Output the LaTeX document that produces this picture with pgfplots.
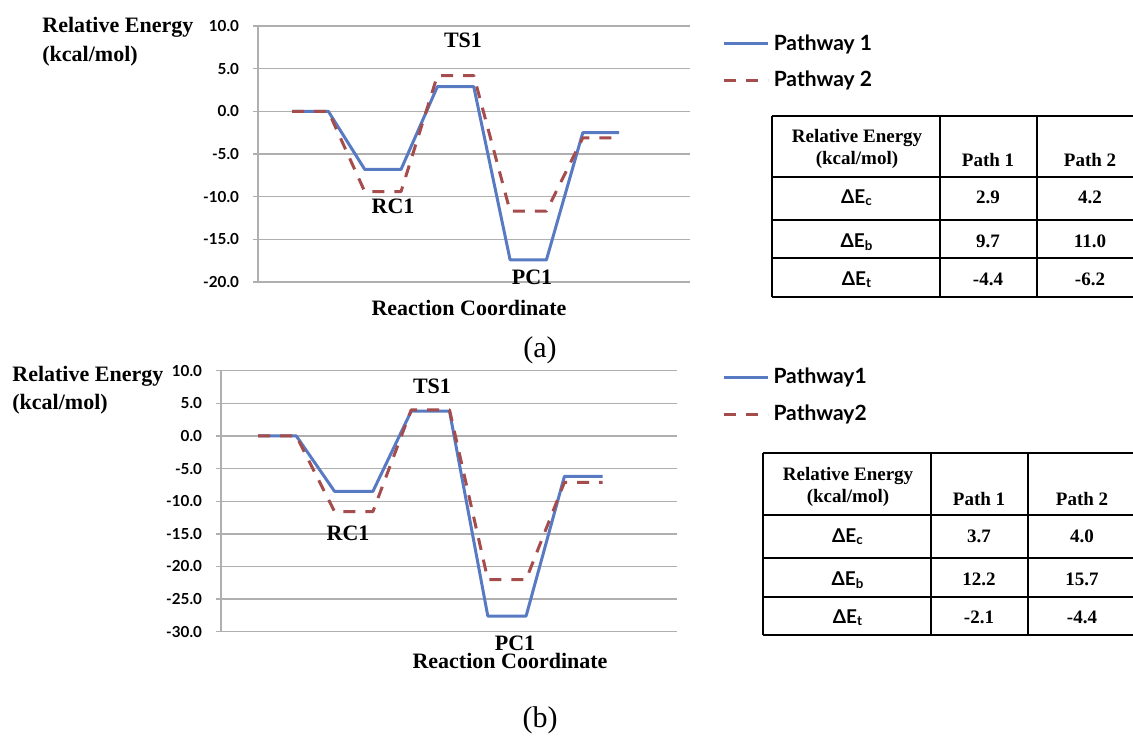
\documentclass[border=0pt]{standalone}
\usepackage{pgfplots}
\pgfplotsset{compat=1.18}
\usepackage{fontspec}
\setmainfont{Liberation Serif}
\newfontfamily\lato{Lato}
\definecolor{pone}{RGB}{88,122,194}
\definecolor{ptwo}{RGB}{165,76,76}
\definecolor{gridc}{RGB}{175,175,175}
\pgfplotsset{
  energy/.style={
    scale only axis,
    axis x line*=bottom, axis y line*=left,
    axis line style={gridc, line width=0.7pt, -},
    xtick=\empty,
    ytick distance=5,
    ymajorgrids, grid style={gridc, line width=0.7pt},
    tick align=outside, major tick length=2.5pt,
    tick style={gridc, line width=0.7pt},
    yticklabel style={/pgf/number format/.cd, fixed, fixed zerofill, precision=1, assume math mode=true, /tikz/.cd,
      font=\lato\bfseries\fontsize{7.6}{8.5}\selectfont, xshift=-3.5pt},
    legend style={draw=none, fill=none, font=\lato\bfseries\fontsize{10.5}{12}\selectfont,
      anchor=north west, inner sep=0pt, row sep=5pt},
    legend cell align=left,
    legend image code/.code={\draw[##1] (0pt,0pt) -- (22pt,0pt);},
  },
  p1/.style={pone, line width=1.5pt, line join=round},
  p2/.style={ptwo, line width=1.5pt, line join=round, dash pattern=on 6pt off 5pt},
}
\newcommand\lbl{\bfseries\fontsize{11}{13}\selectfont}
\newcommand\tbl{\bfseries\fontsize{9.5}{11}\selectfont}
\begin{document}
\begin{tikzpicture}
% panel (a)
\begin{axis}[energy, at={(129pt,-141pt)}, anchor=south west,
  width=216pt, height=128pt, xmin=-0.936, xmax=10.95, ymin=-20, ymax=10,
  legend style={at={(1.075,0.984)}}]
\addplot[p1] coordinates {(0,0) (1,0) (2,-6.8) (3,-6.8) (4,2.9) (5,2.9) (6,-17.4) (7,-17.4) (8,-2.5) (9,-2.5)};
\addplot[p2] coordinates {(0,0) (1,0) (2,-9.4) (3,-9.4) (4,4.2) (5,4.2) (6,-11.7) (7,-11.7) (8,-3.1) (9,-3.1)};
\legend{Pathway 1, Pathway 2}
\end{axis}
% panel (b)
\begin{axis}[energy, at={(110.5pt,-315.85pt)}, anchor=south west,
  width=228pt, height=130.5pt, xmin=-0.966, xmax=10.94, ymin=-30, ymax=10,
  legend style={at={(1.099,1.026)}}]
\addplot[p1] coordinates {(0,0) (1,0) (2,-8.5) (3,-8.5) (4,3.8) (5,3.8) (6,-27.6) (7,-27.6) (8,-6.2) (9,-6.2)};
\addplot[p2] coordinates {(0,0) (1,0) (2,-11.6) (3,-11.6) (4,4.0) (5,4.0) (6,-22.0) (7,-22.0) (8,-7.1) (9,-7.1)};
\legend{Pathway1, Pathway2}
\end{axis}
\begin{scope}[x=0.5pt, y=-0.5pt]
\path[use as bounding box] (0,0) rectangle (1133,736);
% panel (a) texts
\node[anchor=base west, inner sep=0pt, font=\lbl] at (42,32) {Relative Energy};
\node[anchor=base west, inner sep=0pt, font=\lbl] at (42,61) {(kcal/mol)};
\node[anchor=base, inner sep=0pt, font=\lbl] at (463,47) {TS1};
\node[anchor=base, inner sep=0pt, font=\lbl] at (393,213) {RC1};
\node[anchor=base, inner sep=0pt, font=\lbl] at (532,284) {PC1};
\node[anchor=base, inner sep=0pt, font=\lbl] at (469,315) {Reaction Coordinate};
\node[anchor=base, inner sep=0pt, font=\fontsize{15}{17}\selectfont] at (540,357) {(a)};
% panel (b) texts
\node[anchor=base west, inner sep=0pt, font=\lbl] at (12,381) {Relative Energy};
\node[anchor=base west, inner sep=0pt, font=\lbl] at (12,409) {(kcal/mol)};
\node[anchor=base, inner sep=0pt, font=\lbl] at (432,393) {TS1};
\node[anchor=base, inner sep=0pt, font=\lbl] at (348,540) {RC1};
\node[anchor=base, inner sep=0pt, font=\lbl] at (515,650) {PC1};
\node[anchor=base, inner sep=0pt, font=\lbl] at (510,668) {Reaction Coordinate};
\node[anchor=base, inner sep=0pt, font=\fontsize{15}{17}\selectfont] at (540,727) {(b)};
% table (a)
\begin{scope}[line width=1.2pt]
\foreach \yy in {116,177,220,258,297} \draw (772,\yy) -- (1133,\yy);
\foreach \xx in {772,940,1037} \draw (\xx,116) -- (\xx,297);
\end{scope}
\node[anchor=base, inner sep=0pt, font=\tbl] at (857,142) {Relative Energy};
\node[anchor=base, inner sep=0pt, font=\tbl] at (857,164) {(kcal/mol)};
\node[anchor=base, inner sep=0pt, font=\tbl] at (988,166) {Path 1};
\node[anchor=base, inner sep=0pt, font=\tbl] at (1090,166) {Path 2};
\node[anchor=base, inner sep=0pt, font=\lato\tbl] at (857,203) {ΔE\textsubscript{c}};
\node[anchor=base, inner sep=0pt, font=\lato\tbl] at (857,247) {ΔE\textsubscript{b}};
\node[anchor=base, inner sep=0pt, font=\lato\tbl] at (857,285) {ΔE\textsubscript{t}};
\node[anchor=base, inner sep=0pt, font=\tbl] at (988,203) {2.9};
\node[anchor=base, inner sep=0pt, font=\tbl] at (1090,203) {4.2};
\node[anchor=base, inner sep=0pt, font=\tbl] at (988,247) {9.7};
\node[anchor=base, inner sep=0pt, font=\tbl] at (1090,247) {11.0};
\node[anchor=base, inner sep=0pt, font=\tbl] at (988,285) {-4.4};
\node[anchor=base, inner sep=0pt, font=\tbl] at (1090,285) {-6.2};
% table (b)
\begin{scope}[line width=1.2pt]
\foreach \yy in {453,515,558,597,635} \draw (763,\yy) -- (1133,\yy);
\foreach \xx in {763,931,1028} \draw (\xx,453) -- (\xx,635);
\end{scope}
\node[anchor=base, inner sep=0pt, font=\tbl] at (848,480) {Relative Energy};
\node[anchor=base, inner sep=0pt, font=\tbl] at (848,502) {(kcal/mol)};
\node[anchor=base, inner sep=0pt, font=\tbl] at (979,505) {Path 1};
\node[anchor=base, inner sep=0pt, font=\tbl] at (1082,505) {Path 2};
\node[anchor=base, inner sep=0pt, font=\lato\tbl] at (848,542) {ΔE\textsubscript{c}};
\node[anchor=base, inner sep=0pt, font=\lato\tbl] at (848,585) {ΔE\textsubscript{b}};
\node[anchor=base, inner sep=0pt, font=\lato\tbl] at (848,623) {ΔE\textsubscript{t}};
\node[anchor=base, inner sep=0pt, font=\tbl] at (979,542) {3.7};
\node[anchor=base, inner sep=0pt, font=\tbl] at (1082,542) {4.0};
\node[anchor=base, inner sep=0pt, font=\tbl] at (979,585) {12.2};
\node[anchor=base, inner sep=0pt, font=\tbl] at (1082,585) {15.7};
\node[anchor=base, inner sep=0pt, font=\tbl] at (979,623) {-2.1};
\node[anchor=base, inner sep=0pt, font=\tbl] at (1082,623) {-4.4};
\end{scope}
\end{tikzpicture}
\end{document}
